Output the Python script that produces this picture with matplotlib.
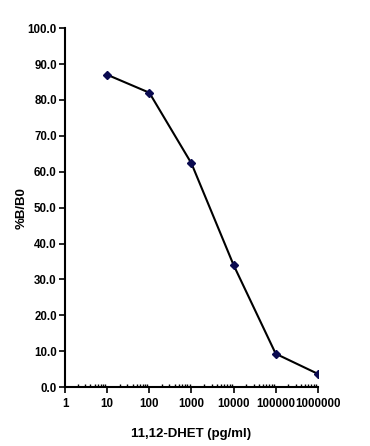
import numpy as np
import matplotlib
matplotlib.use('Agg')
import matplotlib.pyplot as plt
from matplotlib.ticker import FixedLocator, LogLocator, NullFormatter

plt.rcParams['font.family'] = ['Liberation Sans', 'DejaVu Sans']
plt.rcParams['font.weight'] = 'bold'

# datos de la curva
conc = [10, 100, 1000, 10000, 100000, 1000000]
bb0 = [87.0, 82.0, 62.3, 34.0, 9.3, 3.7]
xticks = [1, 10, 100, 1000, 10000, 100000, 1000000]
xlabels = ['1', '10', '100', '1000', '10000', '100000', '1000000']

fig = plt.figure(figsize=(3.7, 4.46), dpi=100)
ax = fig.add_axes([0.176, 0.132, 0.683, 0.805])

ax.plot(conc, bb0, color='black', lw=1.5, marker='D', ms=4,
        mfc='#0a0a50', mec='#0a0a50')

ax.set_xscale('log')
ax.set_xlim(1, 1000000)
ax.set_ylim(0, 100)
ax.xaxis.set_major_locator(FixedLocator(xticks))
ax.set_xticklabels(xlabels)
ax.xaxis.set_minor_locator(LogLocator(base=10, subs=np.arange(2, 10)))
ax.xaxis.set_minor_formatter(NullFormatter())
ax.set_yticks(np.arange(0, 101, 10))
ax.set_yticklabels(['%.1f' % v for v in np.arange(0, 101, 10)])

for s in ['top', 'right']:
    ax.spines[s].set_visible(False)
for s in ['left', 'bottom']:
    ax.spines[s].set_linewidth(1.5)

ax.tick_params(axis='both', which='major', labelsize=8.3, width=1.2, length=4, direction='out')
ax.tick_params(axis='y', which='major', pad=2)
ax.tick_params(axis='x', which='minor', direction='in', length=2.5, width=1)
ax.tick_params(axis='x', which='major', pad=4)

ax.set_xlabel('11,12-DHET (pg/ml)', fontsize=9.5, fontweight='bold', labelpad=13)
ax.set_ylabel('%B/B0', fontsize=9.5, fontweight='bold')
ax.yaxis.set_label_coords(-0.15, 0.5)

fig.savefig('out.png', dpi=100)
